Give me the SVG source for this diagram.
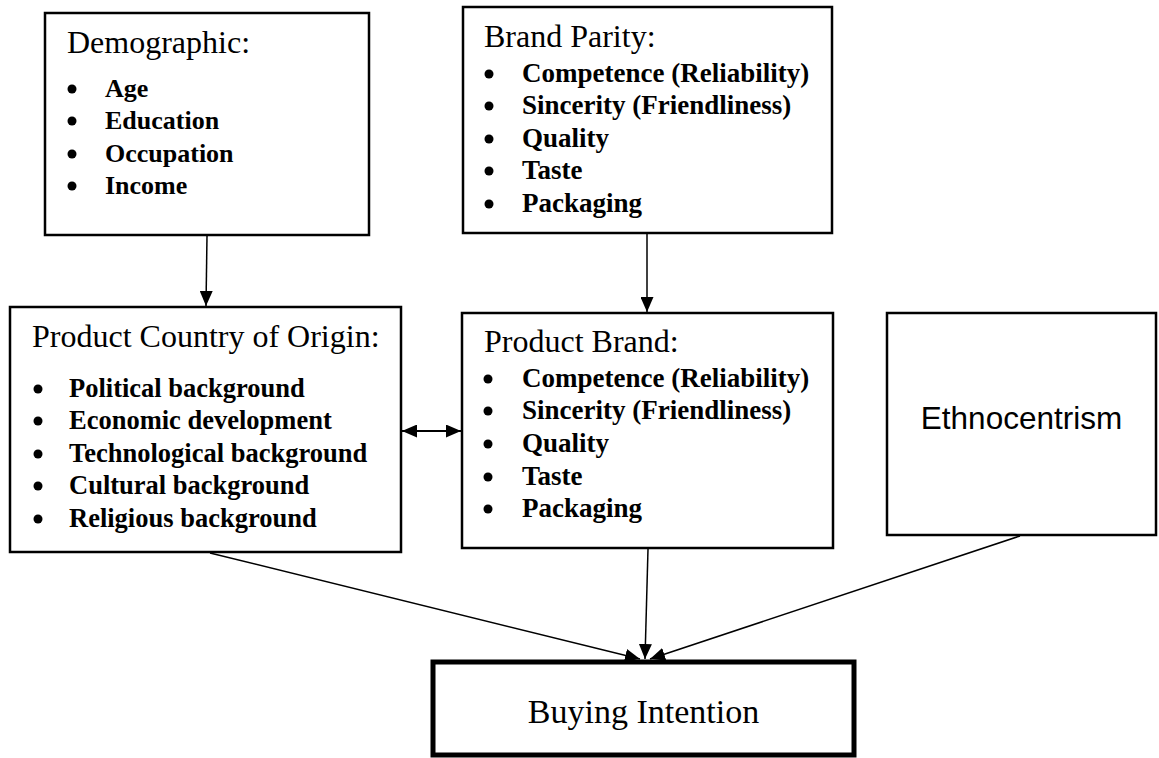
<svg xmlns="http://www.w3.org/2000/svg" width="1159" height="758" viewBox="0 0 1159 758">
<defs>
<marker id="arr" markerWidth="15" markerHeight="13" refX="15" refY="6.5" orient="auto-start-reverse" markerUnits="userSpaceOnUse">
<path d="M0,0 L15,6.5 L0,13 z" fill="#000"/>
</marker>
<style>
.box{fill:#fff;stroke:#000;stroke-width:2.5}
.thick{fill:#fff;stroke:#000;stroke-width:5}
.title{font-family:"Liberation Serif","Times New Roman",serif;font-size:32px;fill:#000}
.item{font-family:"Liberation Serif","Times New Roman",serif;font-weight:bold;font-size:27px;fill:#000}
.item26{font-family:"Liberation Serif","Times New Roman",serif;font-weight:bold;font-size:26px;fill:#000}
.sans{font-family:"Liberation Sans",Arial,sans-serif;font-size:31.5px;fill:#000}
.big{font-family:"Liberation Serif","Times New Roman",serif;font-size:34px;fill:#000}
.con{fill:none;stroke:#000;stroke-width:1.5;marker-end:url(#arr)}
.dbl{fill:none;stroke:#000;stroke-width:1.8;marker-end:url(#arr);marker-start:url(#arr)}
.bul{fill:#000}
</style>
</defs>

<g id="demographic">
<rect class="box" x="45" y="13" width="324" height="222"/>
<text class="title" x="67" y="53">Demographic:</text>
<circle class="bul" cx="72" cy="89" r="4.5"/>
<circle class="bul" cx="72" cy="121" r="4.5"/>
<circle class="bul" cx="72" cy="154" r="4.5"/>
<circle class="bul" cx="72" cy="186" r="4.5"/>
<text class="item26" x="105" y="97">Age</text>
<text class="item26" x="105" y="129">Education</text>
<text class="item26" x="105" y="162">Occupation</text>
<text class="item26" x="105" y="194">Income</text>
</g>

<g id="brand-parity">
<rect class="box" x="463" y="7" width="369" height="226"/>
<text class="title" x="484" y="47">Brand Parity:</text>
<circle class="bul" cx="489" cy="74" r="4.5"/>
<circle class="bul" cx="489" cy="106" r="4.5"/>
<circle class="bul" cx="489" cy="139" r="4.5"/>
<circle class="bul" cx="489" cy="171" r="4.5"/>
<circle class="bul" cx="489" cy="204" r="4.5"/>
<text class="item" x="522" y="82">Competence (Reliability)</text>
<text class="item" x="522" y="114">Sincerity (Friendliness)</text>
<text class="item" x="522" y="147">Quality</text>
<text class="item" x="522" y="179">Taste</text>
<text class="item" x="522" y="212">Packaging</text>
</g>

<g id="country-of-origin">
<rect class="box" x="10" y="307" width="391" height="245"/>
<text class="title" x="32" y="347">Product Country of Origin:</text>
<circle class="bul" cx="38" cy="389" r="4.5"/>
<circle class="bul" cx="38" cy="421" r="4.5"/>
<circle class="bul" cx="38" cy="454" r="4.5"/>
<circle class="bul" cx="38" cy="486" r="4.5"/>
<circle class="bul" cx="38" cy="519" r="4.5"/>
<text class="item" x="69" y="397" style="font-size:26.5px">Political background</text>
<text class="item" x="69" y="429" style="font-size:26.5px">Economic development</text>
<text class="item" x="69" y="462" style="font-size:26.5px">Technological background</text>
<text class="item" x="69" y="494" style="font-size:26.5px">Cultural background</text>
<text class="item" x="69" y="527" style="font-size:26.5px">Religious background</text>
</g>

<g id="product-brand">
<rect class="box" x="462" y="313" width="371" height="235"/>
<text class="title" x="484" y="352">Product Brand:</text>
<circle class="bul" cx="488" cy="379" r="4.5"/>
<circle class="bul" cx="488" cy="411" r="4.5"/>
<circle class="bul" cx="488" cy="444" r="4.5"/>
<circle class="bul" cx="488" cy="477" r="4.5"/>
<circle class="bul" cx="488" cy="509" r="4.5"/>
<text class="item" x="522" y="387">Competence (Reliability)</text>
<text class="item" x="522" y="419">Sincerity (Friendliness)</text>
<text class="item" x="522" y="452">Quality</text>
<text class="item" x="522" y="485">Taste</text>
<text class="item" x="522" y="517">Packaging</text>
</g>

<g id="ethnocentrism">
<rect class="box" x="887" y="313" width="269" height="222"/>
<text class="sans" x="1021.5" y="429" text-anchor="middle">Ethnocentrism</text>
</g>

<g id="buying-intention">
<rect class="thick" x="433" y="662" width="421" height="93"/>
<text class="big" x="643.5" y="723" text-anchor="middle">Buying Intention</text>
</g>

<g id="connectors">
<line class="con" x1="207" y1="236" x2="206" y2="306"/>
<line class="con" x1="647" y1="234" x2="647" y2="312"/>
<line class="dbl" x1="402" y1="431" x2="461" y2="431"/>
<line class="con" x1="210" y1="553" x2="640" y2="659"/>
<line class="con" x1="648" y1="549" x2="645" y2="659"/>
<line class="con" x1="1020" y1="536" x2="650" y2="659"/>
</g>
</svg>
